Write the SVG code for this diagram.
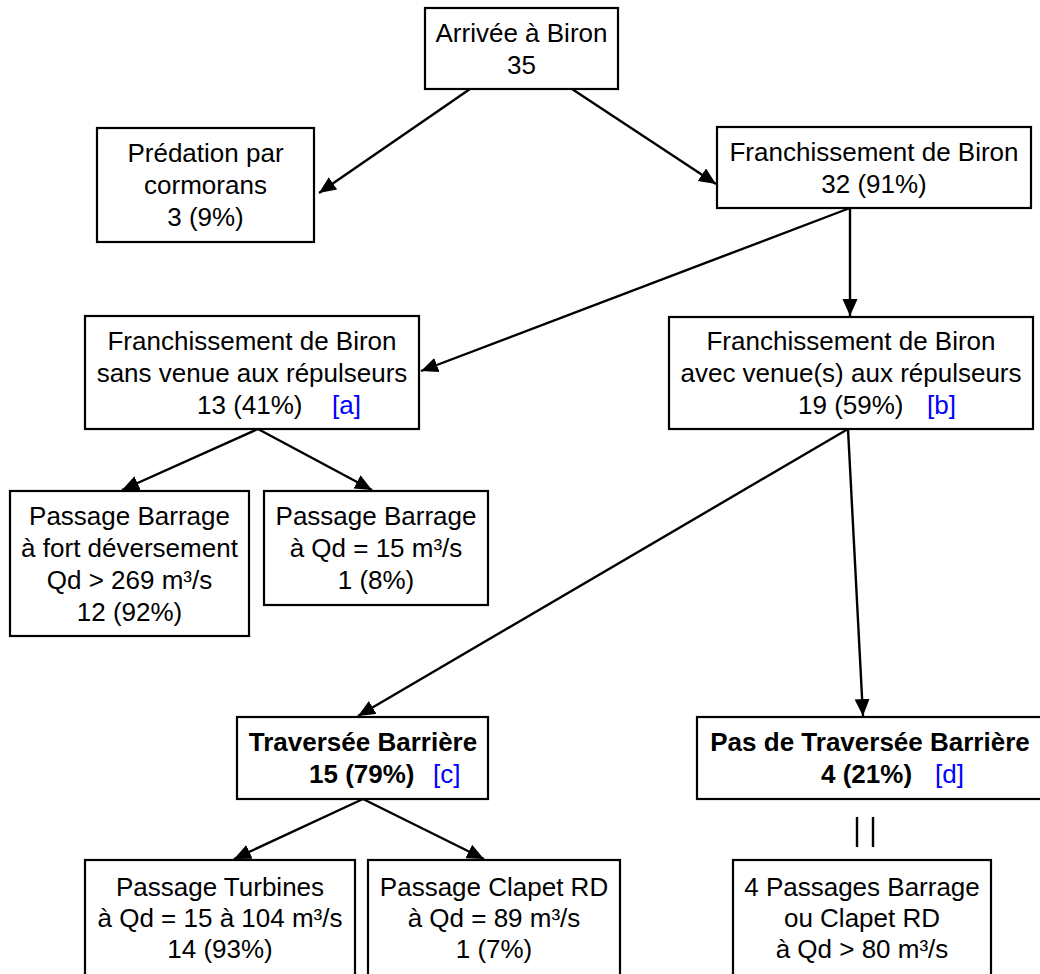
<svg xmlns="http://www.w3.org/2000/svg" width="1040" height="974" viewBox="0 0 1040 974">
<defs>
<style>
.box{fill:#fff;stroke:#000;stroke-width:2.2}
.t{font-family:"Liberation Sans",Arial,sans-serif;font-size:26px;fill:#000;text-anchor:middle}
.b{font-weight:bold}
.s{text-anchor:start}
.ref{fill:#0000ff;font-weight:normal}
.c{stroke:#000;stroke-width:2.4;fill:none}
</style>
<marker id="ah" markerUnits="userSpaceOnUse" markerWidth="19" markerHeight="16" refX="17" refY="7.5" orient="auto">
<path d="M0,0 L17,7.5 L0,15 z" fill="#000"/>
</marker>
</defs>
<rect width="1040" height="974" fill="#fff"/>
<g id="connectors">
<line class="c" x1="470" y1="89" x2="319" y2="193" marker-end="url(#ah)"/>
<line class="c" x1="572" y1="89" x2="716" y2="184" marker-end="url(#ah)"/>
<line class="c" x1="850" y1="208" x2="421" y2="371" marker-end="url(#ah)"/>
<line class="c" x1="850" y1="208" x2="850" y2="316" marker-end="url(#ah)"/>
<line class="c" x1="258" y1="429" x2="122" y2="490" marker-end="url(#ah)"/>
<line class="c" x1="258" y1="429" x2="372" y2="490" marker-end="url(#ah)"/>
<line class="c" x1="848" y1="429" x2="358" y2="716" marker-end="url(#ah)"/>
<line class="c" x1="848" y1="429" x2="863" y2="716" marker-end="url(#ah)"/>
<line class="c" x1="363" y1="799" x2="234" y2="859" marker-end="url(#ah)"/>
<line class="c" x1="363" y1="799" x2="484" y2="859" marker-end="url(#ah)"/>
<line class="c" x1="857" y1="817" x2="857" y2="847"/>
<line class="c" x1="873" y1="817" x2="873" y2="847"/>
</g>
<g id="n-arrivee">
<rect class="box" x="425" y="8" width="193" height="81"/>
<text class="t" x="521.5" y="42">Arrivée à Biron</text>
<text class="t" x="521.5" y="74">35</text>
</g>
<g id="n-predation">
<rect class="box" x="97" y="128" width="217" height="114"/>
<text class="t" x="205.5" y="162">Prédation par</text>
<text class="t" x="205.5" y="194">cormorans</text>
<text class="t" x="205.5" y="226">3 (9%)</text>
</g>
<g id="n-franch">
<rect class="box" x="717" y="127" width="314" height="81"/>
<text class="t" x="874" y="161">Franchissement de Biron</text>
<text class="t" x="874" y="193">32 (91%)</text>
</g>
<g id="n-sans">
<rect class="box" x="85" y="316" width="334" height="113"/>
<text class="t" x="252" y="350">Franchissement de Biron</text>
<text class="t" x="252" y="382">sans venue aux répulseurs</text>
<text class="t s" y="414"><tspan x="197">13 (41%)</tspan><tspan class="ref" x="332">[a]</tspan></text>
</g>
<g id="n-avec">
<rect class="box" x="669" y="317" width="364" height="112"/>
<text class="t" x="851" y="350">Franchissement de Biron</text>
<text class="t" x="851" y="382">avec venue(s) aux répulseurs</text>
<text class="t s" y="414"><tspan x="798">19 (59%)</tspan><tspan class="ref" x="927">[b]</tspan></text>
</g>
<g id="n-fort">
<rect class="box" x="10" y="491" width="239" height="145"/>
<text class="t" x="129.5" y="525">Passage Barrage</text>
<text class="t" x="129.5" y="557">à fort déversement</text>
<text class="t" x="129.5" y="589">Qd &gt; 269 m³/s</text>
<text class="t" x="129.5" y="621">12 (92%)</text>
</g>
<g id="n-qd15">
<rect class="box" x="264" y="491" width="224" height="114"/>
<text class="t" x="376" y="525">Passage Barrage</text>
<text class="t" x="376" y="557">à Qd = 15 m³/s</text>
<text class="t" x="376" y="589">1 (8%)</text>
</g>
<g id="n-traversee">
<rect class="box" x="237" y="717" width="251" height="82"/>
<text class="t b" x="363" y="751">Traversée Barrière</text>
<text class="t b s" y="783"><tspan x="309">15 (79%)</tspan><tspan class="ref" x="433">[c]</tspan></text>
</g>
<g id="n-pas-traversee">
<rect class="box" x="697" y="717" width="350" height="82"/>
<text class="t b" x="870" y="751">Pas de Traversée Barrière</text>
<text class="t b s" y="783"><tspan x="821">4 (21%)</tspan><tspan class="ref" x="935">[d]</tspan></text>
</g>
<g id="n-turbines">
<rect class="box" x="85" y="860" width="270" height="130"/>
<text class="t" x="220" y="896">Passage Turbines</text>
<text class="t" x="220" y="927">à Qd = 15 à 104 m³/s</text>
<text class="t" x="220" y="958">14 (93%)</text>
</g>
<g id="n-clapet">
<rect class="box" x="368" y="860" width="252" height="130"/>
<text class="t" x="494" y="896">Passage Clapet RD</text>
<text class="t" x="494" y="927">à Qd = 89 m³/s</text>
<text class="t" x="494" y="958">1 (7%)</text>
</g>
<g id="n-passages4">
<rect class="box" x="733" y="860" width="258" height="130"/>
<text class="t" x="862" y="896">4 Passages Barrage</text>
<text class="t" x="862" y="927">ou Clapet RD</text>
<text class="t" x="862" y="958">à Qd &gt; 80 m³/s</text>
</g>
</svg>
